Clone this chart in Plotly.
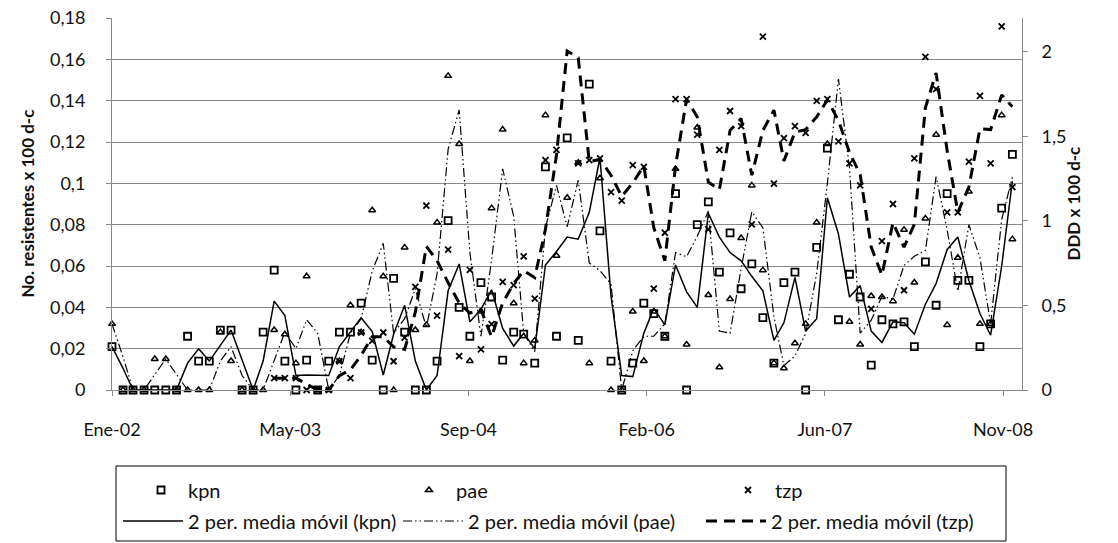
import pandas as pd
import numpy as np
import plotly.graph_objects as go

# ---- data (monthly, Jan-2002 .. Dec-2008) ----
months = pd.date_range("2002-01-01", periods=84, freq="MS")

kpn = [0.021, 0, 0, 0, 0, 0, 0, 0.026, 0.014, 0.014, 0.029, 0.029, 0, 0, 0.028, 0.058,
       0.014, 0, 0.0145, 0, 0.014, 0.028, 0.028, 0.042, 0.0145, 0, 0.054, 0.028, 0, 0,
       0.014, 0.082, 0.040, 0.026, 0.052, 0.045, 0.0145, 0.028, 0.027, 0.013, 0.108, 0.026,
       0.122, 0.024, 0.148, 0.077, 0.014, 0, 0.013, 0.042, 0.037, 0.026, 0.095, 0, 0.080,
       0.091, 0.057, 0.076, 0.049, 0.061, 0.035, 0.013, 0.052, 0.057, 0, 0.069, 0.117, 0.034,
       0.056, 0.045, 0.012, 0.034, 0.032, 0.033, 0.021, 0.062, 0.041, 0.095, 0.053, 0.053,
       0.021, 0.032, 0.088, 0.114]

pae = [0.032, 0, 0, 0, 0.015, 0.015, 0, 0, 0, 0, 0.028, 0.014, 0, 0, 0, 0.029, 0.027,
       0.013, 0.055, 0, 0, 0.014, 0.041, 0.028, 0.087, 0.055, 0, 0.069, 0.029, 0.0315, 0.081,
       0.152, 0.119, 0.014, 0.038, 0.088, 0.126, 0.042, 0.013, 0.024, 0.133, 0.065, 0.093,
       0.110, 0.013, 0.1025, 0, 0, 0.038, 0.014, 0.038, 0.026, 0.107, 0.022, 0.127, 0.046,
       0.011, 0.044, 0.0735, 0.099, 0.058, 0.013, 0.0105, 0.0226, 0.032, 0.081, 0.119, 0.182,
       0.033, 0.022, 0.0455, 0.045, 0.043, 0.0775, 0.052, 0.083, 0.1235, 0.0315, 0.064, 0.096,
       0.032, 0.032, 0.133, 0.073]

tzp = [None] * 15 + [0.07, 0.07, 0.07, 0, 0, 0, 0.17, 0.07, 0.34, 0.29, 0.34, 0.17, 0.31,
       0.61, 1.09, 0.44, 0.83, 0.20, 0.71, 0.24, 0.39, 0.64, 0.62, 0.79, 0.54, 1.36, 1.42,
       2.59, 1.34, 1.36, 1.37, 1.17, 1.12, 1.33, 1.32, 0.60, 0.93, 1.72, 1.72, 1.51, 0.95,
       1.42, 1.65, 1.56, 0.98, 2.09, 1.22, 1.49, 1.56, 1.52, 1.71, 1.72, 1.47, 1.34, 1.21,
       0.48, 0.88, 1.10, 0.59, 1.37, 1.97, 1.78, 1.05, 1.05, 1.35, 1.74, 1.34, 2.15, 1.20]

tick_dates = pd.date_range("2002-01-01", periods=6, freq="500D")
tick_labels = ["Ene-02", "May-03", "Sep-04", "Feb-06", "Jun-07", "Nov-08"]
left_range = [0, 0.18]
right_range = [0, 2.2]


def mov_avg(vals):
    s = pd.Series([np.nan if v is None else v for v in vals], dtype=float)
    return s.rolling(2, min_periods=1).mean().tolist()


def visible(vals, hi):
    return [None if (v is None or v > hi) else v for v in vals]


FONT = "Lato"
FS_TICK = 18
FS_LEG = 20
FS_TITLE = 17
TXT = "#111"
W, H = 1118, 543
ML, MR, MT, MB = 112, 96, 18, 153
PW, PH = W - ML - MR, H - MT - MB


def px(xp):  # pixel x -> paper x
    return (xp - ML) / PW


def py(yp):  # pixel y -> paper y
    return (H - MB - yp) / PH


fig = go.Figure()

fig.add_trace(go.Scatter(x=months, y=visible(kpn, left_range[1]), mode="markers", name="kpn",
                         legend="legend",
                         marker=dict(symbol="square-open", size=7, color="black",
                                     line=dict(width=1.8, color="black")),
                         cliponaxis=False))
fig.add_trace(go.Scatter(x=months, y=visible(pae, left_range[1]), mode="markers", name="pae",
                         legend="legend2",
                         marker=dict(symbol="triangle-up-open", size=6, color="black",
                                     line=dict(width=1.5, color="black")),
                         cliponaxis=False))
fig.add_trace(go.Scatter(x=months, y=visible(tzp, right_range[1]), mode="markers", name="tzp",
                         yaxis="y2", legend="legend3",
                         marker=dict(symbol="x-thin", size=6, color="black",
                                     line=dict(width=1.8, color="black")),
                         cliponaxis=False))
fig.add_trace(go.Scatter(x=months, y=mov_avg(kpn), mode="lines",
                         name="2 per. media móvil (kpn)", legend="legend4",
                         line=dict(color="black", width=1.5), cliponaxis=False))
fig.add_trace(go.Scatter(x=months, y=mov_avg(pae), mode="lines",
                         name="2 per. media móvil (pae)", legend="legend5",
                         line=dict(color="black", width=1.2, dash="9px,3px,1.5px,3px,1.5px,3px"),
                         cliponaxis=False))
fig.add_trace(go.Scatter(x=months, y=mov_avg(tzp), mode="lines", yaxis="y2",
                         name="2 per. media móvil (tzp)", legend="legend6",
                         line=dict(color="black", width=3, dash="11px,7px"),
                         cliponaxis=False))

GRID = "#8a8a8a"


def leg(xpix, ypix, iw):
    return dict(orientation="v", yanchor="middle", y=py(ypix), xanchor="left", x=px(xpix),
                bgcolor="rgba(0,0,0,0)", borderwidth=0, itemwidth=iw,
                font=dict(family=FONT, size=FS_LEG, color=TXT))


fig.update_layout(
    width=W, height=H,
    margin=dict(l=ML, r=MR, t=MT, b=MB, autoexpand=False),
    paper_bgcolor="white", plot_bgcolor="white",
    separators=",.",
    font=dict(family=FONT, size=FS_TICK, color=TXT),
    showlegend=True,
    xaxis=dict(type="date", range=["2002-01-01", "2008-12-28"],
               tickvals=tick_dates, ticktext=tick_labels,
               showgrid=False, zeroline=False, showline=True, linecolor=GRID, linewidth=1,
               ticks="outside", ticklen=5, tickcolor=GRID, ticklabelstandoff=18,
               tickfont=dict(family=FONT, size=FS_TICK, color=TXT)),
    yaxis=dict(range=left_range, dtick=0.02, tick0=0,
               showgrid=True, gridcolor=GRID, gridwidth=1, zeroline=False,
               showline=True, linecolor=GRID, linewidth=1,
               ticks="outside", ticklen=5, tickcolor=GRID, ticklabelstandoff=17,
               tickfont=dict(family=FONT, size=FS_TICK, color=TXT)),
    yaxis2=dict(range=right_range, overlaying="y", side="right",
                tickvals=[0, 0.5, 1, 1.5, 2],
                showgrid=False, zeroline=False, showline=True, linecolor=GRID, linewidth=1,
                ticks="outside", ticklen=5, tickcolor=GRID, ticklabelstandoff=10,
                tickfont=dict(family=FONT, size=FS_TICK, color=TXT)),
    legend=leg(134, 490, 44),
    legend2=leg(402, 490, 44),
    legend3=leg(721, 490, 44),
    legend4=leg(118, 521, 60),
    legend5=leg(398, 521, 60),
    legend6=leg(701, 521, 60),
    shapes=[dict(type="rect", xref="paper", yref="paper",
                 x0=px(116), x1=px(1006), y0=py(541), y1=py(466),
                 line=dict(color="black", width=1), fillcolor="rgba(0,0,0,0)",
                 layer="below")],
    annotations=[
        dict(text="<b>No. resistentes x 100 d-c</b>", xref="paper", yref="paper",
             x=px(14), y=0.5, textangle=-90, showarrow=False,
             font=dict(family=FONT, size=FS_TITLE, color=TXT)),
        dict(text="<b>DDD x 100 d-c</b>", xref="paper", yref="paper",
             x=px(1085), y=0.5, textangle=-90, showarrow=False,
             font=dict(family=FONT, size=FS_TITLE, color=TXT)),
    ],
)

fig.write_html("out.html")
